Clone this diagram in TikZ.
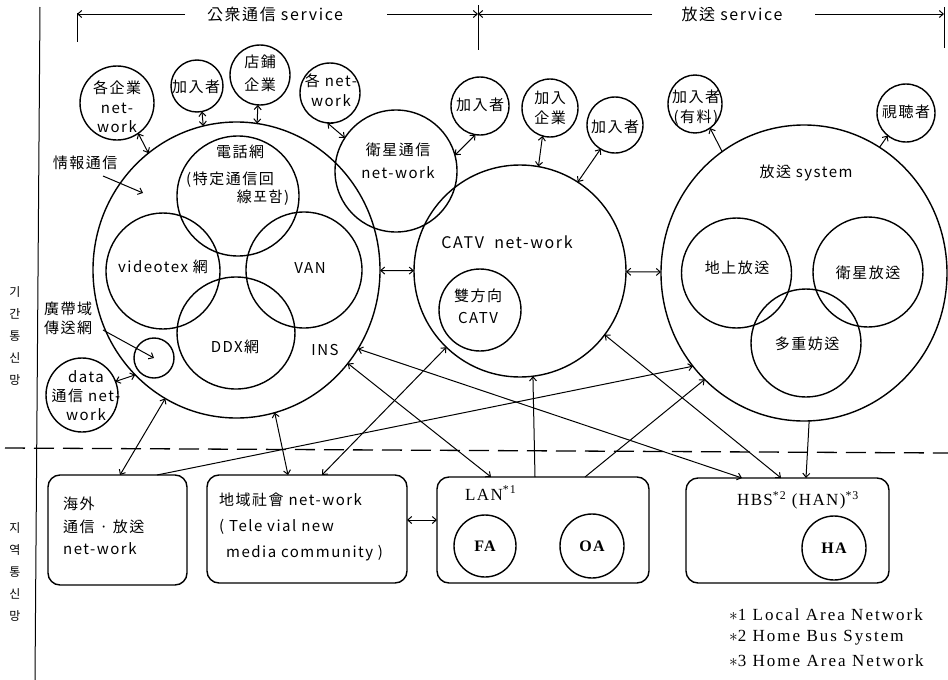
\documentclass[tikz,border=0pt]{standalone}
\usepackage{fontspec}
\newfontfamily\cjk[LetterSpace=10]{Noto Sans CJK KR}
\newfontfamily\kor{Noto Sans CJK KR}
\newfontfamily\srf[LetterSpace=8]{Liberation Serif}
\newfontfamily\srfw[LetterSpace=12]{Liberation Serif}
\usetikzlibrary{shapes.geometric,arrows.meta}
\begin{document}
\begin{tikzpicture}[x=1pt,y=-1pt,
  >={Straight Barb[length=4pt,width=7pt]},
  circ/.style={draw, ellipse, inner sep=0pt, outer sep=0pt, line width=1.4pt},
  sz/.style 2 args={minimum width=#1pt, minimum height=#2pt},
  conn/.style={line width=1pt},
  box/.style={draw, rectangle, rounded corners=12pt, line width=1.4pt, inner sep=0pt, outer sep=0pt},
  txt/.style={font=\cjk\fontsize{15}{19}\selectfont, inner sep=0pt, align=center},
  stxt/.style={font=\srf\fontsize{17}{19}\selectfont, inner sep=0pt},
  ftxt/.style={font=\srfw\fontsize{17}{19}\selectfont, inner sep=0pt},
  btxt/.style={font=\srf\fontsize{16}{19}\selectfont\bfseries, inner sep=0pt},
  ktxt/.style={font=\kor\fontsize{12}{22}\selectfont, inner sep=0pt, align=center},
]
\useasboundingbox (0,0) rectangle (948,680);

% ---------- frame lines ----------
\draw[conn] (40,7) -- (35,680);
\draw[line width=1.3pt, dash pattern=on 20pt off 9pt] (5,448) -- (948,453);

% ---------- header ----------
\node[txt, font=\cjk\fontsize{16}{19}\selectfont] (hdr1) at (275,14) {公衆通信 service};
\node[txt, font=\cjk\fontsize{16}{19}\selectfont] (hdr2) at (732,14) {放送 service};
\coordinate (hL) at (77,14); \coordinate (hM) at (478,14); \coordinate (hR) at (944,14);
\coordinate (h1) at (185,14); \coordinate (h2) at (387,14);
\coordinate (h3) at (652,14); \coordinate (h4) at (815,14);
\draw[conn,->] (h1) -- (hL);
\draw[conn,->] (h2) -- (hM);
\draw[conn,->] (h3) -- (hM);
\draw[conn,->] (h4) -- (hR);
\draw[conn] (77,13) -- (77,42);
\draw[conn] (478,5) -- (478,50);
\draw[conn] (944,7) -- (944,48);

% ---------- side labels ----------
\node[ktxt] (kikan) at (15,336) {기\\간\\통\\신\\망};
\node[ktxt] (chiyeok) at (15,572) {지\\역\\통\\신\\망};

% ---------- INS group ----------
\node[circ, sz={287}{296}] (ins) at (236.5,270) {};
\node[circ, sz={122}{120}] (denwa) at (238,196) {};
\node[circ, sz={114}{116}] (video) at (163,271) {};
\node[circ, sz={116}{116}] (van) at (304,270) {};
\node[circ, sz={118}{112}] (ddx) at (236,333) {};
\node[circ, sz={40}{40}] (bb) at (154,358) {};
\node[txt] (denwaT) at (240,152) {電話網};
\node[txt] (denwaT2) at (230,180) {(特定通信回};
\node[txt] (denwaT3) at (263,198) {線포함)};
\node[txt] (videoT) at (163,267) {videotex 網};
\node[txt] (vanT) at (310,268) {VAN};
\node[txt] (ddxT) at (235,347) {DDX網};
\node[txt] (insT) at (325,350) {INS};
\node[txt] (joho) at (85,163) {情報通信};
\node[txt, align=left] (kotai) at (68,318) {廣帶域\\傳送網};
\coordinate (jtip) at (143,193);
\draw[conn,->] (103,176) -- (jtip);
\draw[conn,->] (103,330) -- (bb.center);

\node[circ, sz={72}{74}] (data) at (82,395) {};
\node[txt] (dataT) at (86,396) {data\\通信 net-\\work};

% ---------- top small circles ----------
\node[circ, sz={74}{74}] (kigyo) at (117,103) {};
\node[txt, font=\cjk\fontsize{15}{19.5}\selectfont] (kigyoT) at (117,107) {各企業\\net-\\work};
\node[circ, sz={52}{52}] (ka1) at (197,86) {};
\node[txt] (ka1T) at (196,87) {加入者};
\node[circ, sz={60}{60}] (tenpo) at (260,75) {};
\node[txt, font=\cjk\fontsize{15}{23}\selectfont] (tenpoT) at (260,73) {店鋪\\企業};
\node[circ, sz={60}{60}] (kaku) at (330,93) {};
\node[txt, font=\cjk\fontsize{15}{20}\selectfont] (kakuT) at (331,90) {各 net-\\work};
\node[circ, sz={122}{122}] (eisei) at (396,171) {};
\node[txt, font=\cjk\fontsize{15}{23}\selectfont] (eiseiT) at (398,161) {衛星通信\\net-work};

% ---------- CATV group ----------
\node[circ, sz={212}{212}] (catv) at (520,271) {};
\node[txt, font=\cjk\fontsize{16}{19}\selectfont] (catvT) at (507,242) {CATV\ \ net-work};
\node[circ, sz={82}{82}] (sou) at (480,310) {};
\node[txt, font=\cjk\fontsize{15}{22}\selectfont] (souT) at (478,306) {雙方向\\CATV};
\node[circ, sz={58}{58}] (ka2) at (480,106) {};
\node[txt] (ka2T) at (480,105) {加入者};
\node[circ, sz={56}{58}] (kigyo2) at (550,108) {};
\node[txt, font=\cjk\fontsize{15}{20}\selectfont] (kigyo2T) at (550,108) {加入\\企業};
\node[circ, sz={56}{56}] (ka3) at (615,125) {};
\node[txt] (ka3T) at (615,127) {加入者};

% ---------- broadcast group ----------
\node[circ, sz={286}{296}] (housou) at (804,273) {};
\node[txt, font=\cjk\fontsize{15}{19}\selectfont] (housouT) at (806,173) {放送 system};
\node[circ, sz={110}{110}] (chijo) at (736.5,273) {};
\node[circ, sz={110}{110}] (eiseiH) at (868,272) {};
\node[circ, sz={110}{108}] (tajuu) at (806,343) {};
\node[txt] (chijoT) at (737,268) {地上放送};
\node[txt] (eiseiHT) at (868,273) {衛星放送};
\node[txt] (tajuuT) at (807,344) {多重妨送};
\node[circ, sz={54}{58}] (yuryo) at (695,104) {};
\node[txt, font=\cjk\fontsize{15}{20}\selectfont] (yuryoT) at (696,108) {加入者\\(有料)};
\node[circ, sz={58}{58}] (shicho) at (906,113) {};
\node[txt] (shichoT) at (906,112) {視聴者};

% ---------- bottom boxes ----------
\node[box, sz={139}{110}] (kaigai) at (117.5,530) {};
\node[txt, anchor=west, align=left, font=\cjk\fontsize{15}{22.5}\selectfont] (kaigaiT) at (63,526) {海外\\通信 · 放送\\net-work};
\node[box, sz={200}{108}] (chiiki) at (307,529) {};
\node[txt, anchor=west, align=left, font=\cjk\fontsize{15}{26}\selectfont] (chiikiT) at (219,527) {地域社會 net-work\\( Tele vial new\\\hspace{7pt}media community )};
\node[box, sz={212}{106}] (lan) at (543,530) {};
\node[stxt, anchor=west] (lanT) at (465,493) {LAN\textsuperscript{*1}};
\node[circ, sz={62}{62}] (fa) at (485,546) {};
\node[circ, sz={64}{64}] (oa) at (592,546) {};
\node[btxt] (faT) at (485,546) {FA};
\node[btxt] (oaT) at (592,546) {OA};
\node[box, sz={203}{105}] (hbs) at (787.5,530.5) {};
\node[stxt] (hbsT) at (798,500) {HBS\textsuperscript{*2} (HAN)\textsuperscript{*3}};
\node[circ, sz={64}{64}] (ha) at (834,548) {};
\node[btxt] (haT) at (834,548) {HA};

% ---------- footnotes ----------
\node[ftxt, anchor=west] (fn1) at (729,615) {$\ast$1 Local Area Network};
\node[ftxt, anchor=west] (fn2) at (729,638) {$\ast$2 Home Bus System};
\node[ftxt, anchor=west] (fn3) at (729,661) {$\ast$3 Home Area Network};

% ---------- connectors (top) ----------
\draw[conn,<->] (kigyo.305) -- (ins.127);
\draw[conn,<->] (ka1.281) -- (ins.103);
\draw[conn,<->] (tenpo.266) -- (ins.82);
\draw[conn,<->] (kaku.265) -- (eisei.147);
\draw[conn,<->] (ka2.261) -- (eisei.15);
\draw[conn,<->] (kigyo2.255) -- (catv.80);
\draw[conn,<->] (ka3.239) -- (catv.57);
\draw[conn,<-] (yuryo.302) -- (housou.124);
\draw[conn,<-] (shicho.231) -- (housou.59);
\draw[conn,<->] (ins) -- (catv);
\draw[conn,<->] (catv) -- (housou);
\draw[conn,<->] (data.22) -- (ins.226);

% ---------- connectors (bottom) ----------
\draw[conn,<->] ([xshift=72pt]kaigai.north west) -- (ins.241);
\draw[conn,<->] ([xshift=81pt]chiiki.north west) -- (ins.285);
\draw[conn,->] ([xshift=109pt]kaigai.north west) -- (housou.220);
\draw[conn,<->] ([xshift=115pt]chiiki.north west) -- (catv.226);
\draw[conn,<->] ([xshift=54pt]lan.north west) -- (ins.320);
\draw[conn,<->] ([xshift=56pt]hbs.north west) -- (ins.327);
\draw[conn,->] ([xshift=98pt]lan.north west) -- (catv.277);
\draw[conn,->] ([xshift=148pt]lan.north west) -- (housou.227);
\draw[conn,<->] ([xshift=95pt]hbs.north west) -- (catv.323);
\draw[conn,->] (housou.272) -- ([xshift=120pt]hbs.north west);
\draw[conn,<->] ([yshift=9pt]chiiki.east) -- ([yshift=10pt]lan.west);
\end{tikzpicture}
\end{document}
